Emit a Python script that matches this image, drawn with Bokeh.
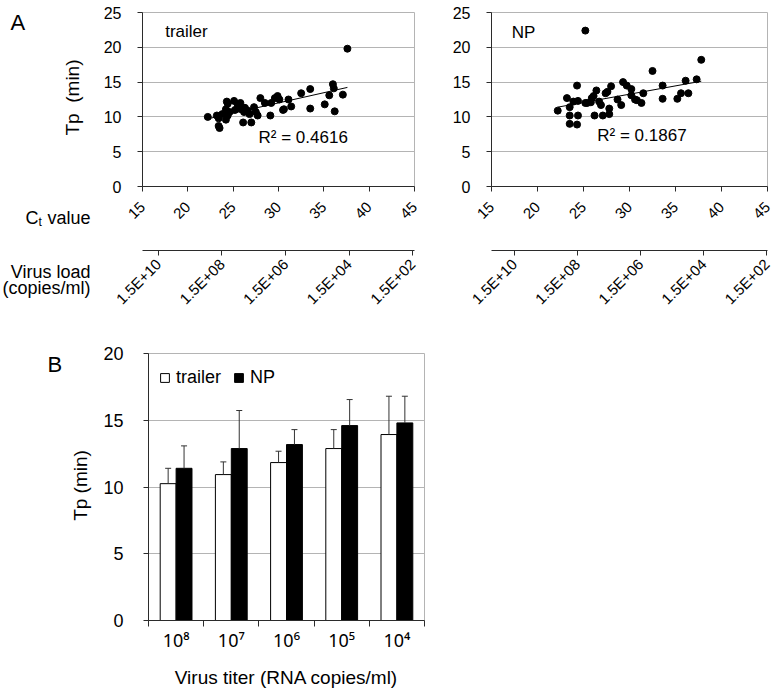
import numpy as np
from math import pi
from bokeh.plotting import figure
from bokeh.models import (Range1d, LinearAxis, FixedTicker, Label, Whisker,
                          ColumnDataSource, TeeHead, Legend, LegendItem)
from bokeh.layouts import column, row
from bokeh.embed import file_html
from bokeh.resources import INLINE

FONT = "Liberation Sans"
GRID = "#b4b4b4"
AXIS = "#2b2b2b"

# ---------------- Panel A data ----------------
trailer_ct = [22.2, 23.2, 23.4, 23.4, 23.5, 23.8, 24.2, 24.3, 24.4, 24.2, 24.4, 24.6,
              25.1, 25.2, 25.5, 25.8, 25.9, 26.1, 26.2, 26.3, 26.6, 26.8, 27.0, 27.3,
              27.5, 27.7, 28.0, 28.5, 29.1, 29.2, 29.6, 29.9, 30.1, 30.5, 30.6, 31.1,
              31.4, 32.5, 33.5, 33.5, 35.1, 35.6, 36.0, 36.1, 36.2, 37.1, 37.6]
trailer_tp = [10.0, 10.2, 9.8, 8.7, 8.4, 10.4, 11.1, 12.2, 11.9, 9.6, 10.2, 10.7,
              12.3, 11.0, 11.8, 12.0, 11.1, 9.2, 10.7, 11.3, 10.9, 10.4, 9.2, 11.4,
              10.7, 10.2, 12.7, 12.0, 10.2, 12.0, 12.7, 13.0, 12.5, 11.0, 11.1, 12.5,
              11.5, 13.4, 14.0, 11.2, 11.8, 13.1, 14.7, 14.1, 10.8, 13.2, 19.8]
np_ct = [22.2, 23.2, 23.5, 23.5, 23.5, 23.9, 24.3, 24.4, 24.4, 24.3, 25.2, 25.2,
         25.4, 25.8, 25.9, 26.1, 26.4, 26.2, 26.7, 26.9, 27.1, 27.4, 27.6, 27.8,
         27.8, 28.0, 28.7, 29.1, 29.3, 29.7, 30.2, 30.2, 30.6, 30.8, 31.3, 31.5,
         32.5, 33.6, 33.6, 35.2, 35.6, 36.1, 36.4, 37.3, 37.8]
np_tp = [10.9, 12.7, 11.4, 10.2, 9.0, 12.2, 14.5, 12.3, 10.2, 8.9, 22.4, 12.0,
         12.0, 12.1, 12.7, 13.0, 13.8, 10.2, 12.2, 11.7, 10.2, 13.4, 13.6, 11.2,
         10.4, 14.4, 12.5, 11.7, 15.0, 14.5, 14.0, 13.1, 12.5, 12.4, 12.0, 13.4,
         16.6, 14.5, 12.6, 12.6, 13.4, 15.2, 13.4, 15.4, 18.2]
r2_trailer = "R² = 0.4616"
r2_np = "R² = 0.1867"
ct_ticks = [15, 20, 25, 30, 35, 40, 45]
tp_ticks_a = [0, 5, 10, 15, 20, 25]
load_ticks = [10, 8, 6, 4, 2]           # log10 exponent of 1.5E+xx
load_labels = ["1.5E+10", "1.5E+08", "1.5E+06", "1.5E+04", "1.5E+02"]
load_range_l = (10.5, 1.94)             # exponent at Ct 15 and at Ct 45 (left panel)
load_range_r = (10.72, 1.98)            # same for right panel

# ---------------- Panel B data ----------------
titers = ["10⁸", "10⁷", "10⁶", "10⁵", "10⁴"]
trailer_mean = [10.25, 10.93, 11.83, 12.88, 13.93]
trailer_sd = [1.15, 0.95, 0.85, 1.42, 2.87]
np_mean = [11.4, 12.88, 13.18, 14.6, 14.8]
np_sd = [1.68, 2.85, 1.12, 1.95, 2.0]
tp_ticks_b = [0, 5, 10, 15, 20]


def base_fig(width, height, xr, yr, bl, br, bt, bb):
    p = figure(width=width, height=height, x_range=xr, y_range=yr,
               output_backend="svg", toolbar_location=None,
               min_border_left=bl, min_border_right=br,
               min_border_top=bt, min_border_bottom=bb)
    p.frame_align = False
    p.outline_line_color = GRID
    p.xgrid.grid_line_color = None
    p.ygrid.grid_line_color = GRID
    return p


def text_fig(width, height, page_x0, page_y0):
    # a blank figure whose data units equal page pixels (y grows downward)
    p = figure(width=width, height=height,
               x_range=Range1d(page_x0, page_x0 + width),
               y_range=Range1d(page_y0 + height, page_y0),
               output_backend="svg", toolbar_location=None,
               x_axis_location=None, y_axis_location=None,
               min_border=0)
    p.frame_align = False
    p.outline_line_color = None
    p.grid.grid_line_color = None
    return p


def put(p, x, y, text, size, align="left", baseline="alphabetic", angle=0.0):
    p.add_layout(Label(x=x, y=y, text=text, text_font=FONT, text_font_size=size,
                       text_align=align, text_baseline=baseline, angle=angle,
                       text_color="black"))


def style_axis(ax, size, standoff):
    ax.axis_line_color = AXIS
    ax.major_tick_line_color = AXIS
    ax.major_tick_in = 0
    ax.major_tick_out = 5
    ax.minor_tick_line_color = None
    ax.major_label_text_font = FONT
    ax.major_label_text_font_size = size
    ax.major_label_text_color = "black"
    ax.major_label_standoff = standoff
    ax.axis_label_text_font = FONT
    ax.axis_label_text_font_style = "normal"
    ax.axis_label_text_color = "black"


def scatter_panel(ct, tp, width, bl, br, load_range):
    p = base_fig(width, 330, Range1d(15, 45), Range1d(0, 25), bl, br, 12, 144)
    p.extra_x_ranges = {"load": Range1d(*load_range)}
    p.yaxis.ticker = FixedTicker(ticks=tp_ticks_a)
    style_axis(p.yaxis[0], "16px", 16)
    # Ct axis
    p.xaxis.ticker = FixedTicker(ticks=ct_ticks)
    style_axis(p.xaxis[0], "15px", 13)
    p.xaxis.major_label_orientation = pi / 4
    p.xaxis.axis_label = " "
    p.xaxis.axis_label_text_font_size = "10px"
    p.xaxis.axis_label_standoff = 10
    # Virus load axis
    la = LinearAxis(x_range_name="load", ticker=FixedTicker(ticks=load_ticks),
                    major_label_overrides={t: s for t, s in zip(load_ticks, load_labels)})
    style_axis(la, "15px", 6)
    la.major_label_orientation = pi / 4
    p.add_layout(la, "below")
    # points + least-squares trend
    p.scatter(ct, tp, size=7, color="black")
    k, b = np.polyfit(ct, tp, 1)
    xs = np.array([min(ct), max(ct)])
    p.line(xs, k * xs + b, color="black", line_width=1)
    return p


def in_label(p, x, y, text):
    p.add_layout(Label(x=x, y=y, text=text, text_font=FONT, text_font_size="17px",
                       text_color="black"))


# ---- Panel A ----
lab_a = text_fig(100, 330, 0, 0)
pa_l = scatter_panel(trailer_ct, trailer_tp, 340, 40, 26, load_range_l)
pa_r = scatter_panel(np_ct, np_tp, 337, 51, 10, load_range_r)

in_label(pa_l, 17.5, 20.9, "trailer")
in_label(pa_l, 27.8, 5.7, r2_trailer)
in_label(pa_r, 17.2, 20.8, "NP")
in_label(pa_r, 26.5, 6.0, r2_np)

put(lab_a, 10, 22, "A", "22px")
put(lab_a, 72, 97, "Tp\u00a0 (min)", "19px", align="center", baseline="middle", angle=pi / 2)
put(lab_a, 38, 217, "C", "18px", align="right")
put(lab_a, 38, 221, "t", "12px")
put(lab_a, 90, 217, "value", "18px", align="right")
put(lab_a, 90, 271, "Virus load", "18px", align="right")
put(lab_a, 90, 287, "(copies/ml)", "18px", align="right")

# ---- Panel B ----
lab_b = text_fig(100, 360, 0, 330)
put(lab_b, 47, 364, "B", "22px")
put(lab_b, 80, 485, "Tp (min)", "19px", align="center", baseline="middle", angle=pi / 2)

pb = base_fig(350, 360, Range1d(0, 5), Range1d(0, 20), 46, 26, 23, 70)
pos = np.arange(len(titers)) + 0.5
off = 0.144
bw = 0.288
src = ColumnDataSource(dict(
    xt=pos - off, xn=pos + off,
    tm=trailer_mean, nm=np_mean,
    tu=np.array(trailer_mean) + np.array(trailer_sd),
    nu=np.array(np_mean) + np.array(np_sd)))
r_t = pb.vbar(x="xt", top="tm", width=bw, source=src, fill_color="white",
              line_color="black", line_width=1)
r_n = pb.vbar(x="xn", top="nm", width=bw, source=src, fill_color="black",
              line_color="black", line_width=1)
for base, lo, up in (("xt", "tm", "tu"), ("xn", "nm", "nu")):
    w = Whisker(source=src, base=base, lower=lo, upper=up, dimension="height",
                line_color="#333333", line_width=1, lower_head=None,
                upper_head=TeeHead(size=6, line_color="#333333", line_width=1))
    w.level = "overlay"
    pb.add_layout(w)

pb.yaxis.ticker = FixedTicker(ticks=tp_ticks_b)
style_axis(pb.yaxis[0], "18px", 20)

pb.xaxis.ticker = FixedTicker(ticks=list(pos), minor_ticks=list(range(len(titers) + 1)))
style_axis(pb.xaxis[0], "18px", 1)
pb.xaxis.major_label_text_font = "Noto Sans"
pb.xaxis.major_tick_out = 0
pb.xaxis.major_tick_line_color = None
pb.xaxis.minor_tick_line_color = AXIS
pb.xaxis.minor_tick_out = 6
pb.xaxis.minor_tick_in = 0
pb.xaxis.major_label_overrides = {float(p_): t for p_, t in zip(pos, titers)}
pb.xaxis.axis_label = "Virus titer (RNA copies/ml)"
pb.xaxis.axis_label_text_font_size = "19px"
pb.xaxis.axis_label_standoff = 12

legend = Legend(items=[LegendItem(label="trailer", renderers=[r_t]),
                       LegendItem(label="NP", renderers=[r_n])],
                location="top_left", orientation="horizontal",
                margin=0, padding=11, spacing=12,
                glyph_width=11, glyph_height=11, label_height=27,
                label_standoff=6, label_text_font=FONT,
                label_text_font_size="18px", label_text_color="black",
                border_line_alpha=0, background_fill_alpha=0)
pb.add_layout(legend)

layout = column(row(lab_a, pa_l, pa_r), row(lab_b, pb))
open("out.html", "w").write(file_html(layout, INLINE))
